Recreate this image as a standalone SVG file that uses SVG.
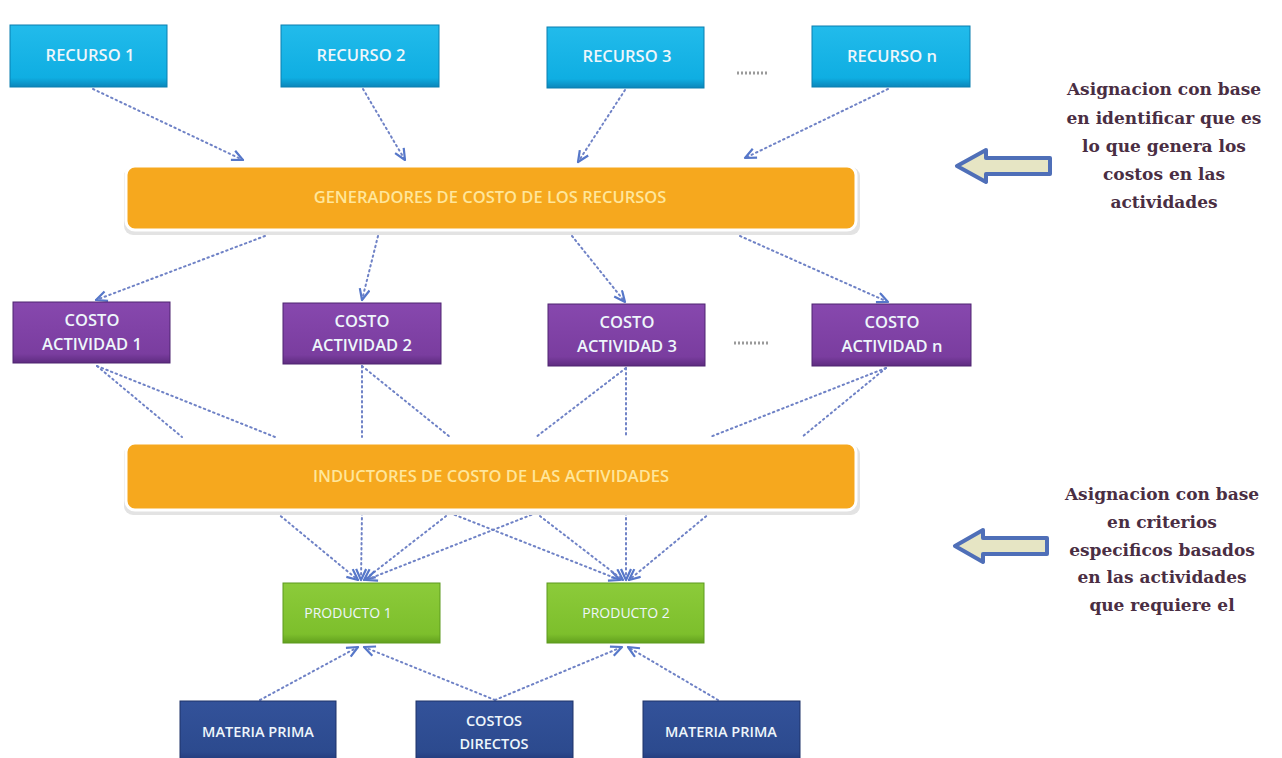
<svg xmlns="http://www.w3.org/2000/svg" width="1282" height="758" viewBox="0 0 1282 758">
<style>
.lbl{font-family:"Open Sans","Liberation Sans",sans-serif;font-size:16.5px;font-weight:600;text-anchor:middle;dominant-baseline:middle}
.act .lbl{font-size:16.5px}
.prod .lbl{font-size:14px;font-weight:normal}
.base .lbl{font-size:14.5px}
.bar .lbl{font-size:16.5px}
.res rect.b{fill:url(#gCyan);stroke:#0B7FB0;stroke-width:1}
.act rect.b{fill:url(#gPurple);stroke:#4E2470;stroke-width:1}
.prod rect.b{fill:url(#gGreen);stroke:#5C9A1E;stroke-width:1}
.base rect.b{fill:url(#gBlue);stroke:#1E3368;stroke-width:1}
.bar rect.b{fill:#F6A81E;stroke:#FFFFFF;stroke-width:3}
.bar rect.s{fill:#E3E3E3}
.wt{fill:#EEF6FB}
.yt{fill:#FFE69A}
.conn line{stroke:#6F82C6;stroke-width:2;stroke-dasharray:1.5 3.5;stroke-linecap:round;fill:none}
.side{font-family:"DejaVu Serif","Liberation Serif",serif;font-weight:bold;font-size:17px;fill:#4A2E43;text-anchor:middle}
.dots{stroke:#9A9A9A;stroke-width:3;stroke-dasharray:2 2}
</style>
<defs>
<linearGradient id="gCyan" x1="0" y1="0" x2="0" y2="1"><stop offset="0" stop-color="#22BBEB"/><stop offset="0.85" stop-color="#0FAEE2"/><stop offset="1" stop-color="#0B86BA"/></linearGradient>
<linearGradient id="gPurple" x1="0" y1="0" x2="0" y2="1"><stop offset="0" stop-color="#8748AE"/><stop offset="0.85" stop-color="#7A3D9F"/><stop offset="1" stop-color="#5E2C80"/></linearGradient>
<linearGradient id="gGreen" x1="0" y1="0" x2="0" y2="1"><stop offset="0" stop-color="#8CCB3A"/><stop offset="0.85" stop-color="#7DBF2C"/><stop offset="1" stop-color="#62A01E"/></linearGradient>
<linearGradient id="gBlue" x1="0" y1="0" x2="0" y2="1"><stop offset="0" stop-color="#33529A"/><stop offset="0.85" stop-color="#2C4A8E"/><stop offset="1" stop-color="#22397A"/></linearGradient>
<marker id="ah" markerUnits="userSpaceOnUse" markerWidth="16" markerHeight="16" refX="12" refY="6" orient="auto">
<path d="M1,1 L12,6 L1,11" fill="none" stroke="#5677C9" stroke-width="2.2" stroke-linejoin="round"/>
</marker>
</defs>
<rect width="1282" height="758" fill="#FFFFFF"/>

<g id="conns" class="conn">
<line x1="93" y1="89" x2="243" y2="160" marker-end="url(#ah)"/>
<line x1="363" y1="89" x2="405" y2="160" marker-end="url(#ah)"/>
<line x1="625" y1="90" x2="578" y2="162" marker-end="url(#ah)"/>
<line x1="888" y1="89" x2="745" y2="158" marker-end="url(#ah)"/>
<line x1="265" y1="236" x2="96" y2="300" marker-end="url(#ah)"/>
<line x1="378" y1="236" x2="362" y2="300" marker-end="url(#ah)"/>
<line x1="572" y1="236" x2="625" y2="302" marker-end="url(#ah)"/>
<line x1="740" y1="236" x2="888" y2="302" marker-end="url(#ah)"/>
<line x1="97" y1="366" x2="182" y2="437"/>
<line x1="97" y1="366" x2="275" y2="437"/>
<line x1="362" y1="366" x2="362" y2="437"/>
<line x1="362" y1="366" x2="450" y2="437"/>
<line x1="626" y1="368" x2="536" y2="437"/>
<line x1="626" y1="368" x2="626" y2="437"/>
<line x1="886" y1="368" x2="710" y2="437"/>
<line x1="886" y1="368" x2="802" y2="437"/>
<line x1="277" y1="513" x2="358" y2="580" marker-end="url(#ah)"/>
<line x1="362" y1="513" x2="361" y2="580" marker-end="url(#ah)"/>
<line x1="450" y1="513" x2="364" y2="580" marker-end="url(#ah)"/>
<line x1="536" y1="513" x2="366" y2="580" marker-end="url(#ah)"/>
<line x1="450" y1="513" x2="620" y2="580" marker-end="url(#ah)"/>
<line x1="536" y1="513" x2="623" y2="580" marker-end="url(#ah)"/>
<line x1="626" y1="513" x2="626" y2="580" marker-end="url(#ah)"/>
<line x1="710" y1="513" x2="629" y2="580" marker-end="url(#ah)"/>
<line x1="260" y1="700" x2="358" y2="647" marker-end="url(#ah)"/>
<line x1="495" y1="700" x2="364" y2="647" marker-end="url(#ah)"/>
<line x1="495" y1="700" x2="622" y2="647" marker-end="url(#ah)"/>
<line x1="718" y1="700" x2="628" y2="647" marker-end="url(#ah)"/>
</g>

<g id="recurso1" class="res"><rect class="b" x="10" y="25" width="157" height="62"/><text class="lbl wt" x="90" y="57">RECURSO 1</text></g>
<g id="recurso2" class="res"><rect class="b" x="281" y="25" width="158" height="62"/><text class="lbl wt" x="361" y="57">RECURSO 2</text></g>
<g id="recurso3" class="res"><rect class="b" x="547" y="27" width="157" height="61"/><text class="lbl wt" x="627" y="58">RECURSO 3</text></g>
<g id="recurson" class="res"><rect class="b" x="812" y="26" width="158" height="61"/><text class="lbl wt" x="892" y="58">RECURSO n</text></g>
<line class="dots" x1="737" y1="73" x2="768" y2="73"/>

<g id="generadores" class="bar"><rect class="s" x="124" y="167" width="736" height="68" rx="9"/><rect class="b" x="126" y="166" width="730" height="64" rx="9"/><text class="lbl yt" x="490" y="199">GENERADORES DE COSTO DE LOS RECURSOS</text></g>

<g id="actividad1" class="act"><rect class="b" x="13" y="302" width="157" height="61"/><text class="lbl wt" x="92" y="322">COSTO</text><text class="lbl wt" x="92" y="346">ACTIVIDAD 1</text></g>
<g id="actividad2" class="act"><rect class="b" x="283" y="303" width="158" height="61"/><text class="lbl wt" x="362" y="323">COSTO</text><text class="lbl wt" x="362" y="347">ACTIVIDAD 2</text></g>
<g id="actividad3" class="act"><rect class="b" x="548" y="304" width="157" height="62"/><text class="lbl wt" x="627" y="324">COSTO</text><text class="lbl wt" x="627" y="348">ACTIVIDAD 3</text></g>
<g id="actividadn" class="act"><rect class="b" x="812" y="304" width="159" height="62"/><text class="lbl wt" x="892" y="324">COSTO</text><text class="lbl wt" x="892" y="348">ACTIVIDAD n</text></g>
<line class="dots" x1="734" y1="343" x2="768" y2="343"/>

<g id="inductores" class="bar"><rect class="s" x="124" y="445" width="736" height="70" rx="9"/><rect class="b" x="126" y="443" width="730" height="67" rx="9"/><text class="lbl yt" x="491" y="478">INDUCTORES DE COSTO DE LAS ACTIVIDADES</text></g>

<g id="producto1" class="prod"><rect class="b" x="283" y="583" width="157" height="60"/><text class="lbl wt" x="348" y="614">PRODUCTO 1</text></g>
<g id="producto2" class="prod"><rect class="b" x="547" y="583" width="157" height="60"/><text class="lbl wt" x="626" y="614">PRODUCTO 2</text></g>

<g id="materia1" class="base"><rect class="b" x="180" y="701" width="156" height="60"/><text class="lbl wt" x="258" y="733">MATERIA PRIMA</text></g>
<g id="costosdirectos" class="base"><rect class="b" x="416" y="701" width="157" height="60"/><text class="lbl wt" x="494" y="722">COSTOS</text><text class="lbl wt" x="494" y="745">DIRECTOS</text></g>
<g id="materia2" class="base"><rect class="b" x="643" y="701" width="157" height="60"/><text class="lbl wt" x="721" y="733">MATERIA PRIMA</text></g>

<g id="flecha1"><path d="M1050,158 L986,158 L986,150 L957,166 L986,182 L986,174 L1050,174 Z" fill="#E6E5C4" stroke="#4F6FB8" stroke-width="4" stroke-linejoin="round"/></g>
<g id="nota1">
<text class="side" x="1164" y="95">Asignacion con base</text>
<text class="side" x="1164" y="124">en identificar que es</text>
<text class="side" x="1164" y="152">lo que genera los</text>
<text class="side" x="1164" y="180">costos en las</text>
<text class="side" x="1164" y="208">actividades</text>
</g>
<g id="flecha2"><path d="M1047,538 L983,538 L983,530 L955,546 L983,562 L983,554 L1047,554 Z" fill="#E6E5C4" stroke="#4F6FB8" stroke-width="4" stroke-linejoin="round"/></g>
<g id="nota2">
<text class="side" x="1162" y="500">Asignacion con base</text>
<text class="side" x="1162" y="528">en criterios</text>
<text class="side" x="1162" y="556">especificos basados</text>
<text class="side" x="1162" y="583">en las actividades</text>
<text class="side" x="1162" y="611">que requiere el</text>
</g>
</svg>
